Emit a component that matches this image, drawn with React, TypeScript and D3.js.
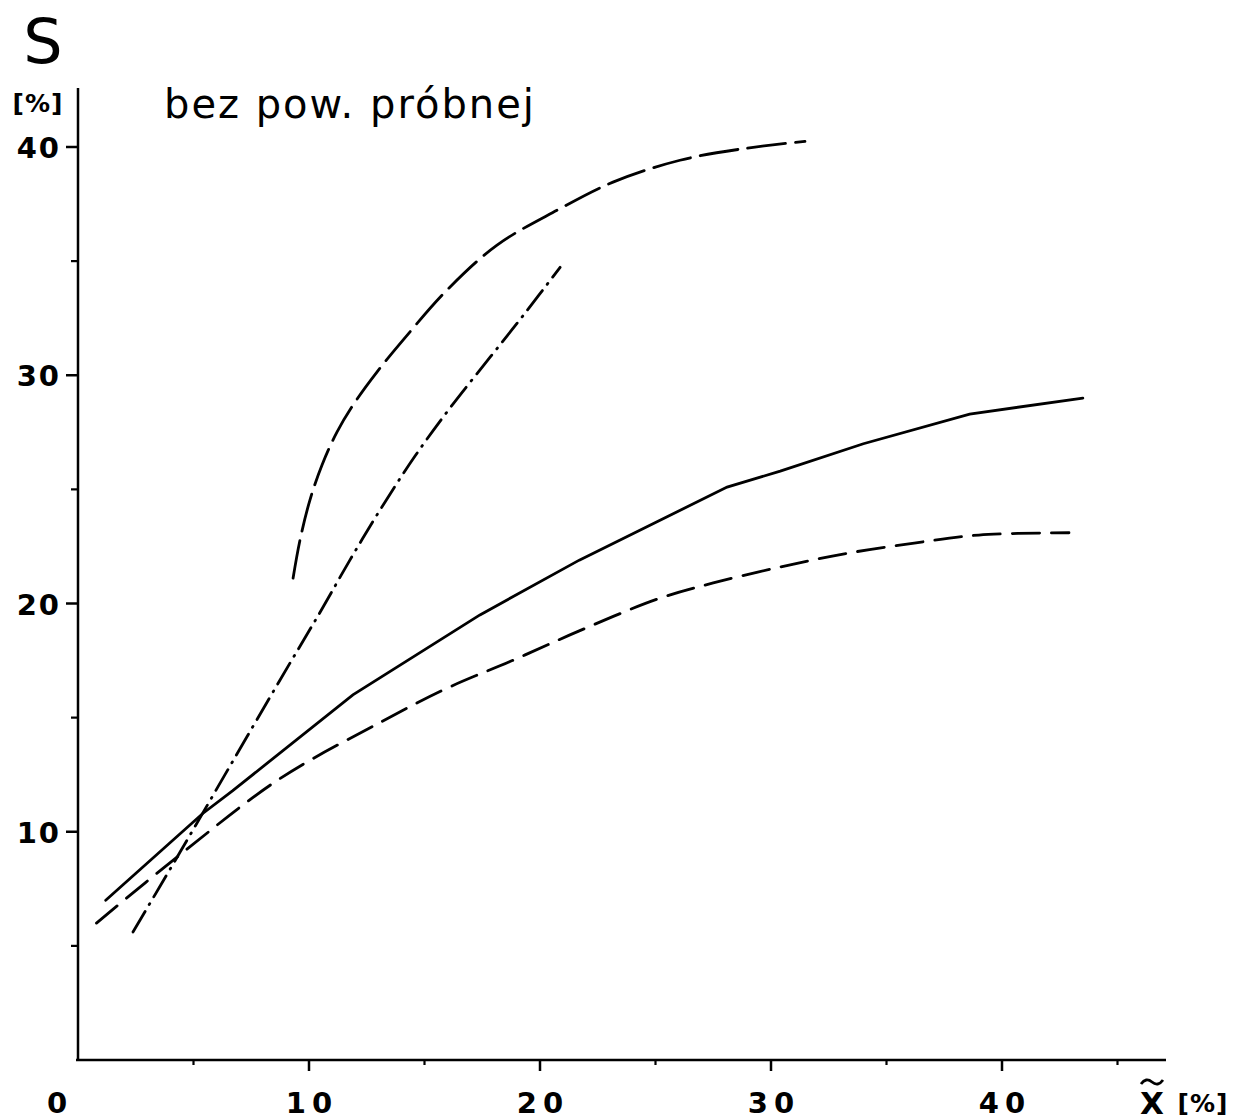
import React from "react";
import * as d3 from "d3";

const solidX = [1.2, 5.4, 6.7, 11.9, 17.4, 21.7, 28.1, 30.4, 34.0, 38.6, 43.5];
const solidY = [7.0, 10.8, 11.8, 16.0, 19.5, 21.9, 25.1, 25.8, 27.0, 28.3, 29.0];

const dashX = [0.8, 4.3, 8.7, 13.1, 16.0, 18.8, 21.7, 25.1, 27.5, 30.4, 33.3, 36.2, 39.0, 42.9];
const dashY = [6.0, 8.9, 12.3, 14.8, 16.3, 17.5, 18.8, 20.2, 20.9, 21.6, 22.2, 22.65, 23.0, 23.1];

const dashDotX = [2.38, 4.42, 6.58, 8.74, 10.48, 11.77, 13.07, 14.59, 16.1, 17.84, 19.35, 20.87];
const dashDotY = [5.61, 9.11, 12.88, 16.64, 19.62, 21.9, 24.09, 26.46, 28.56, 30.79, 32.72, 34.73];

const longDashX = [9.31, 9.61, 10.04, 10.56, 11.21, 11.99, 12.94, 14.07, 15.97, 18.14, 20.74, 23.16, 26.06, 28.96, 31.47];
const longDashY = [21.11, 22.78, 24.53, 26.06, 27.51, 28.82, 30.14, 31.54, 33.73, 35.7, 37.23, 38.46, 39.42, 39.95, 40.25];

const yMajorTicks = [10, 20, 30, 40];
const yMinorTicks = [5, 15, 25, 35];
const xMajorTicks = [10, 20, 30, 40];
const xMinorTicks = [5, 15, 25, 35, 45];

const titleText = "bez pow. próbnej";
const yAxisName = "S";
const unitText = "[%]";
const xAxisName = "X";

export default function App() {
  const x = d3.scaleLinear().domain([0, 47]).range([78, 78 + 47 * 23.1]);
  const y = d3.scaleLinear().domain([0, 40]).range([1060, 147]);

  const mk = (xs: number[], ys: number[], curve: d3.CurveFactory) =>
    d3
      .line<number>()
      .x((_, i) => x(xs[i]))
      .y((d) => y(d))
      .curve(curve)(ys) as string;

  const numFont = "'DejaVu Sans', sans-serif";
  const xEnd = 1166;
  const smooth = d3.curveCatmullRom.alpha(0.5);

  return (
    <svg
      width={1235}
      height={1120}
      style={{ position: "absolute", left: 0, top: 0, background: "#fff" }}
    >
      <rect x={0} y={0} width={1235} height={1120} fill="#fff" />
      {/* axes */}
      <line x1={x(0)} y1={88} x2={x(0)} y2={y(0)} stroke="#000" strokeWidth={2.5} />
      <line x1={x(0) - 2} y1={y(0)} x2={xEnd} y2={y(0)} stroke="#000" strokeWidth={2.5} />
      {yMajorTicks.map((t) => (
        <g key={"ym" + t}>
          <line x1={x(0) - 12} y1={y(t)} x2={x(0)} y2={y(t)} stroke="#000" strokeWidth={2.5} />
          <text
            x={x(0) - 17}
            y={y(t) + 1}
            textAnchor="end"
            dominantBaseline="central"
            fontFamily={numFont}
            fontWeight={700}
            fontSize={29}
            letterSpacing={2}
          >
            {t}
          </text>
        </g>
      ))}
      {yMinorTicks.map((t) => (
        <line key={"yn" + t} x1={x(0) - 7} y1={y(t)} x2={x(0)} y2={y(t)} stroke="#000" strokeWidth={2.2} />
      ))}
      {xMajorTicks.map((t) => (
        <g key={"xm" + t}>
          <line x1={x(t)} y1={y(0)} x2={x(t)} y2={y(0) + 11} stroke="#000" strokeWidth={2.5} />
          <text
            x={x(t) + 3}
            y={1103}
            textAnchor="middle"
            dominantBaseline="central"
            fontFamily={numFont}
            fontWeight={700}
            fontSize={29}
            letterSpacing={6}
          >
            {t}
          </text>
        </g>
      ))}
      {xMinorTicks.map((t) => (
        <line key={"xn" + t} x1={x(t)} y1={y(0)} x2={x(t)} y2={y(0) + 5} stroke="#000" strokeWidth={2.2} />
      ))}
      <text x={57} y={1103} textAnchor="middle" dominantBaseline="central" fontFamily={numFont} fontWeight={700} fontSize={29}>
        0
      </text>

      {/* axis names */}
      <text x={43} y={63} textAnchor="middle" fontFamily="'DejaVu Sans', sans-serif" fontWeight={400} fontSize={62}>
        {yAxisName}
      </text>
      <text x={38} y={112} textAnchor="middle" fontFamily={numFont} fontWeight={700} fontSize={25} letterSpacing={1}>
        {unitText}
      </text>
      <text x={164} y={118} fontFamily="'DejaVu Sans', sans-serif" fontWeight={400} fontSize={40} letterSpacing={2}>
        {titleText}
      </text>
      <text x={1152} y={1114} textAnchor="middle" fontFamily={numFont} fontWeight={700} fontSize={31}>
        {xAxisName}
      </text>
      <path d="M1141,1084 Q1146,1077 1152,1082 Q1158,1087 1163,1080" fill="none" stroke="#000" strokeWidth={2.8} />
      <text x={1203} y={1112} textAnchor="middle" fontFamily={numFont} fontWeight={700} fontSize={25} letterSpacing={1}>
        {unitText}
      </text>

      {/* curves */}
      <path d={mk(solidX, solidY, d3.curveLinear)} fill="none" stroke="#000" strokeWidth={2.8} strokeLinecap="round" />
      <path
        d={mk(dashX, dashY, smooth)}
        fill="none"
        stroke="#000"
        strokeWidth={2.8}
        strokeDasharray="27 12"
        strokeLinecap="round"
      />
      <path
        d={mk(dashDotX, dashDotY, smooth)}
        fill="none"
        stroke="#000"
        strokeWidth={2.8}
        strokeDasharray="24 8 1 8"
        strokeLinecap="round"
      />
      <path
        d={mk(longDashX, longDashY, smooth)}
        fill="none"
        stroke="#000"
        strokeWidth={2.8}
        strokeDasharray="38 10"
        strokeLinecap="round"
      />
    </svg>
  );
}
